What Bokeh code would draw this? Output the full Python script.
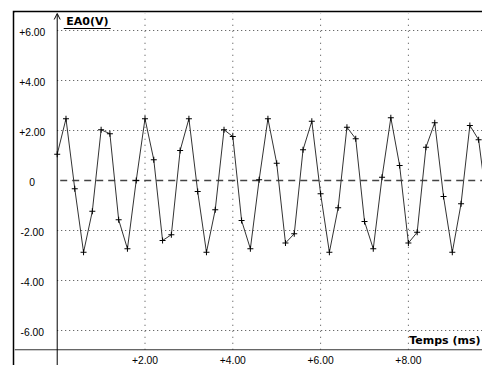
from bokeh.plotting import figure
from bokeh.models import Span, Arrow, OpenHead, Range1d
from bokeh.core.properties import value
from bokeh.embed import file_html
from bokeh.resources import INLINE

# ---- data (sampling times in ms, voltage on EA0 in V) ----
t_ms = [0.0, 0.2, 0.4, 0.6, 0.8, 1.0, 1.2, 1.4, 1.6, 1.8,
        2.0, 2.2, 2.4, 2.6, 2.8, 3.0, 3.2, 3.4, 3.6, 3.8,
        4.0, 4.2, 4.4, 4.6, 4.8, 5.0, 5.2, 5.4, 5.6, 5.8,
        6.0, 6.2, 6.4, 6.6, 6.8, 7.0, 7.2, 7.4, 7.6, 7.8,
        8.0, 8.2, 8.4, 8.6, 8.8, 9.0, 9.2, 9.4, 9.6, 9.8]
ea0_v = [1.05, 2.47, -0.33, -2.87, -1.23, 2.03, 1.87, -1.57, -2.73, 0.0,
         2.47, 0.83, -2.40, -2.17, 1.20, 2.47, -0.44, -2.87, -1.17, 2.03,
         1.76, -1.60, -2.73, 0.03, 2.47, 0.69, -2.50, -2.13, 1.23, 2.37,
         -0.53, -2.87, -1.09, 2.13, 1.67, -1.64, -2.73, 0.13, 2.51, 0.60,
         -2.50, -2.07, 1.33, 2.31, -0.64, -2.87, -0.93, 2.20, 1.63, -1.10]

x_ticks = [2, 4, 6, 8]
x_tick_labels = ["+2.00", "+4.00", "+6.00", "+8.00"]
y_ticks = [6, 4, 2, 0, -2, -4, -6]
y_tick_labels = ["+6.00", "+4.00", "+2.00", "0", "-2.00", "-4.00", "-6.00"]
y_grid = [6, 4, 2, -2, -4, -6]

y_title = "EA0(V)"
x_title = "Temps (ms)"

# ---- axis geometry (data units) ----
X_START, X_END = -0.973, 9.688
Y_START, Y_END = -7.40, 6.72
X_AXIS_Y = -6.77      # where the time axis crosses
Y_AXIS_TOP = 6.68     # tip of the voltage axis arrow

W, H = 470, 355
BORDER = 2

p = figure(width=W, height=H,
           x_range=Range1d(X_START, X_END), y_range=Range1d(Y_START, Y_END),
           output_backend="svg", toolbar_location=None,
           x_axis_location=None, y_axis_location=None,
           min_border_left=BORDER, min_border_top=BORDER,
           min_border_right=0, min_border_bottom=0,
           border_fill_color="black", background_fill_color="white",
           outline_line_color=None, margin=(10, 0, 0, 12))
p.grid.visible = False

tick_font = value("Liberation Sans")
title_font = value("DejaVu Sans")

# horizontal dotted grid lines (start at the voltage axis)
p.ray(x=[0] * len(y_grid), y=y_grid, length=0, angle=0,
      line_color="#444444", line_width=1, line_dash="1 3")
# vertical dotted grid lines
p.segment(x0=x_ticks, y0=[X_AXIS_Y] * len(x_ticks),
          x1=x_ticks, y1=[Y_AXIS_TOP] * len(x_ticks),
          line_color="#444444", line_width=1, line_dash="1 5")
# dashed zero line
p.ray(x=[0], y=[0], length=0, angle=0, line_color="#444444",
      line_width=1.3, line_dash="7 5", line_dash_offset=9)

# time axis line
p.add_layout(Span(location=X_AXIS_Y, dimension="width",
                  line_color="#333333", line_width=1))
# voltage axis with open arrow head
p.add_layout(Arrow(x_start=0, y_start=Y_START, x_end=0, y_end=Y_AXIS_TOP,
                   line_color="black", line_width=1,
                   end=OpenHead(size=6, line_color="black", line_width=1)))

# signal
p.line(t_ms, ea0_v, line_color="#333333", line_width=1)
p.scatter(t_ms, ea0_v, marker="cross", size=6, line_color="black", line_width=1)

# tick labels
p.text(x=x_ticks, y=[X_AXIS_Y] * len(x_ticks), text=x_tick_labels,
       text_align="center", text_baseline="middle", y_offset=10,
       text_font=tick_font, text_font_size="10.3px", text_color="black")
p.text(x=[0] * len(y_ticks), y=y_ticks, text=y_tick_labels,
       text_align="center", text_baseline="middle", x_offset=-25, y_offset=1,
       text_font=tick_font, text_font_size="10.3px", text_color="black")

# axis titles
p.text(x=[0], y=[Y_AXIS_TOP], text=[y_title], text_align="left",
       text_baseline="alphabetic", x_offset=9, y_offset=7.5,
       text_font=title_font, text_font_style="bold", text_font_size="11px",
       text_color="black")
p.text(x=[X_END], y=[X_AXIS_Y], text=[x_title], text_align="right",
       text_baseline="alphabetic", x_offset=-2, y_offset=-9,
       text_font=title_font, text_font_style="bold", text_font_size="11px",
       text_color="black")

# underline of the voltage title (offsets in pixels from the title anchor)
px_x = (X_END - X_START) / (W - BORDER)
px_y = (Y_END - Y_START) / (H - BORDER)
p.segment(x0=[6.5 * px_x], y0=[Y_AXIS_TOP - 15 * px_y],
          x1=[53.5 * px_x], y1=[Y_AXIS_TOP - 15 * px_y],
          line_color="black", line_width=1)

open("out.html", "w").write(file_html(p, INLINE))
